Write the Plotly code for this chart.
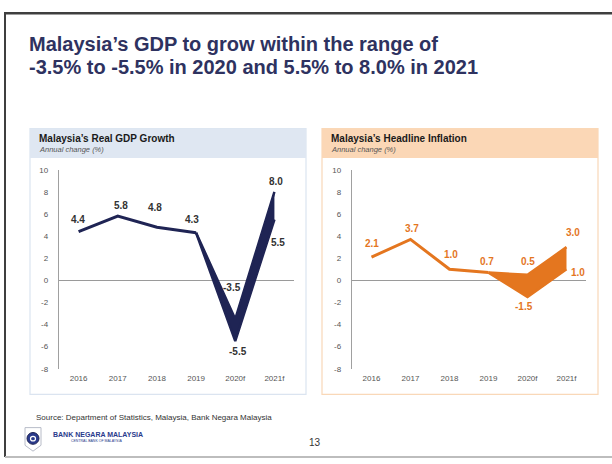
import plotly.graph_objects as go

W, H = 612, 464

# ---------------- data ----------------
years = ["2016", "2017", "2018", "2019", "2020f", "2021f"]
hist_years = ["2016", "2017", "2018", "2019"]
fc_years = ["2019", "2020f", "2021f"]

gdp_hist = [4.4, 5.8, 4.8, 4.3]
gdp_upper = [4.3, -3.5, 8.0]
gdp_lower = [4.3, -5.5, 5.5]

inf_hist = [2.1, 3.7, 1.0, 0.7]
inf_upper = [0.7, 0.5, 3.0]
inf_lower = [0.7, -1.5, 1.0]

y_ticks = [10, 8, 6, 4, 2, 0, -2, -4, -6, -8]

# label placements (style): (category, value, xshift, yshift)
gdp_labels = [
    ("2016", gdp_hist[0], -1, 12), ("2017", gdp_hist[1], 3, 11),
    ("2018", gdp_hist[2], -2, 20), ("2019", gdp_hist[3], -4, 13),
    ("2020f", gdp_upper[1], -3, 32), ("2020f", gdp_lower[1], 3, -10),
    ("2021f", gdp_upper[2], 2, 10), ("2021f", gdp_lower[2], 4, -23),
]
inf_labels = [
    ("2016", inf_hist[0], 0, 14), ("2017", inf_hist[1], 1, 11),
    ("2018", inf_hist[2], 1, 15), ("2019", inf_hist[3], -2, 11),
    ("2020f", inf_upper[1], 0, 13), ("2020f", inf_lower[1], -4, -10),
    ("2021f", inf_upper[2], 6, 15), ("2021f", inf_lower[2], 11, -3),
]

NAVY = "#1f2454"
ORANGE = "#e4761f"
FONT = "Liberation Sans, Arial, sans-serif"


def px(x):
    return x / W


def py(y):
    return 1 - y / H


fig = go.Figure()


def add_series(hist, upper, lower, color, xa, ya):
    fig.add_trace(go.Scatter(x=hist_years, y=hist, mode="lines",
                             line=dict(color=color, width=3),
                             xaxis=xa, yaxis=ya, hoverinfo="skip"))
    fig.add_trace(go.Scatter(x=fc_years, y=upper, mode="lines",
                             line=dict(color=color, width=2.5),
                             xaxis=xa, yaxis=ya, hoverinfo="skip"))
    fig.add_trace(go.Scatter(x=fc_years, y=lower, mode="lines",
                             line=dict(color=color, width=2.5),
                             fill="tonexty", fillcolor=color,
                             xaxis=xa, yaxis=ya, hoverinfo="skip"))


add_series(gdp_hist, gdp_upper, gdp_lower, NAVY, "x", "y")
add_series(inf_hist, inf_upper, inf_lower, ORANGE, "x2", "y2")

ydom = [py(372), py(169)]
common_x = dict(type="category", categoryorder="array", categoryarray=years,
                range=[-0.5, 5.5], showgrid=False, zeroline=False, showline=False,
                ticks="", tickfont=dict(family=FONT, size=8, color="#555555"),
                ticklabelstandoff=3, fixedrange=True)
common_y = dict(range=[-8, 10], tickvals=y_ticks, ticktext=[str(v) for v in y_ticks],
                showgrid=False,
                zeroline=True, zerolinecolor="#9a9a9a", zerolinewidth=1.5,
                showline=True, linecolor="#a0a0a0", linewidth=1.2, ticks="",
                tickfont=dict(family=FONT, size=8, color="#555555"),
                ticklabelstandoff=8, fixedrange=True)

fig.update_layout(
    width=W, height=H, margin=dict(l=0, r=0, t=0, b=0),
    paper_bgcolor="white", plot_bgcolor="rgba(0,0,0,0)", showlegend=False,
    xaxis=dict(domain=[px(59), px(294)], anchor="y", **common_x),
    yaxis=dict(domain=ydom, anchor="x", **common_y),
    xaxis2=dict(domain=[px(352), px(586)], anchor="y2", **common_x),
    yaxis2=dict(domain=ydom, anchor="x2", **common_y),
)

P = dict(xref="paper", yref="paper")
shapes = [
    # slide borders
    dict(type="line", x0=px(4), x1=1, y0=py(9.5), y1=py(9.5),
         line=dict(color="#3f3f3f", width=2.5), **P),
    dict(type="line", x0=px(5), x1=px(5), y0=py(9), y1=py(462),
         line=dict(color="#3f3f3f", width=2), **P),
    dict(type="line", x0=px(5), x1=1, y0=py(462), y1=py(462),
         line=dict(color="#bdbdbd", width=2), **P),
    # left panel
    dict(type="rect", x0=px(30), x1=px(306), y0=py(127), y1=py(398),
         line=dict(color="#dbe4f0", width=1.2), fillcolor="white", layer="below", **P),
    dict(type="rect", x0=px(30), x1=px(306), y0=py(127), y1=py(157),
         line=dict(width=0), fillcolor="#dfe7f2", layer="below", **P),
    # right panel
    dict(type="rect", x0=px(322), x1=px(598), y0=py(127), y1=py(398),
         line=dict(color="#f9d8b8", width=1.2), fillcolor="white", layer="below", **P),
    dict(type="rect", x0=px(322), x1=px(598), y0=py(127), y1=py(157),
         line=dict(width=0), fillcolor="#fbd7b6", layer="below", **P),
    # logo shield
    dict(type="path",
         path=f"M {px(25)} {py(432)} L {px(41)} {py(432)} L {px(41)} {py(450)} "
              f"L {px(33)} {py(456)} L {px(25)} {py(450)} Z",
         line=dict(color="#b8bcc8", width=1), fillcolor="white", **P),
    dict(type="circle", x0=px(27), x1=px(39), y0=py(437), y1=py(449),
         line=dict(color=NAVY, width=1), fillcolor="#2a3a8c", **P),
    dict(type="circle", x0=px(30.5), x1=px(35.5), y0=py(441), y1=py(445.5),
         line=dict(color="white", width=1.2), fillcolor="rgba(0,0,0,0)", **P),
]
fig.update_layout(shapes=shapes)

ann = []
ann.append(dict(x=px(27), y=py(41), xanchor="left", yanchor="middle", showarrow=False,
                text="<b>Malaysia’s GDP to grow within the range of</b>",
                font=dict(family=FONT, size=20, color="#2e3260"), **P))
ann.append(dict(x=px(27), y=py(64), xanchor="left", yanchor="middle", showarrow=False,
                text="<b>-3.5% to -5.5% in 2020 and 5.5% to 8.0% in 2021</b>",
                font=dict(family=FONT, size=20, color="#2e3260"), **P))
for x0, title in [(37, "Malaysia’s Real GDP Growth"), (329, "Malaysia’s Headline Inflation")]:
    ann.append(dict(x=px(x0), y=py(137), xanchor="left", yanchor="middle",
                    showarrow=False, text=f"<b>{title}</b>",
                    font=dict(family=FONT, size=10, color="#1a1a1a"), **P))
    ann.append(dict(x=px(x0), y=py(148), xanchor="left", yanchor="middle",
                    showarrow=False, text="<i>Annual change (%)</i>",
                    font=dict(family=FONT, size=7.5, color="#555555"), **P))

for (cat, val, dx, dy) in gdp_labels:
    ann.append(dict(x=years.index(cat), y=val, xref="x", yref="y", showarrow=False,
                    text=f"<b>{val:.1f}</b>", xshift=dx, yshift=dy,
                    font=dict(family=FONT, size=10, color="#333333")))
for (cat, val, dx, dy) in inf_labels:
    ann.append(dict(x=years.index(cat), y=val, xref="x2", yref="y2", showarrow=False,
                    text=f"<b>{val:.1f}</b>", xshift=dx, yshift=dy,
                    font=dict(family=FONT, size=10, color=ORANGE)))

ann.append(dict(x=px(34), y=py(422), xanchor="left", yanchor="middle", showarrow=False,
                text="Source: Department of Statistics, Malaysia, Bank Negara Malaysia",
                font=dict(family=FONT, size=8, color="#333333"), **P))
ann.append(dict(x=px(51), y=py(439), xanchor="left", yanchor="middle", showarrow=False,
                text="<b>BANK NEGARA MALAYSIA</b>",
                font=dict(family=FONT, size=7, color="#2a3a8c"), **P))
ann.append(dict(x=px(69), y=py(446), xanchor="left", yanchor="middle", showarrow=False,
                text="CENTRAL BANK OF MALAYSIA",
                font=dict(family=FONT, size=3.5, color="#2a3a8c"), **P))
ann.append(dict(x=px(315), y=py(447), xanchor="center", yanchor="middle",
                showarrow=False, text="13",
                font=dict(family=FONT, size=10, color="#333333"), **P))
fig.update_layout(annotations=ann)

fig.write_html("out.html",
               config={"displayModeBar": False, "staticPlot": True},
               post_script="document.body.style.margin='0px';"
                           "document.body.style.overflow='hidden';")
